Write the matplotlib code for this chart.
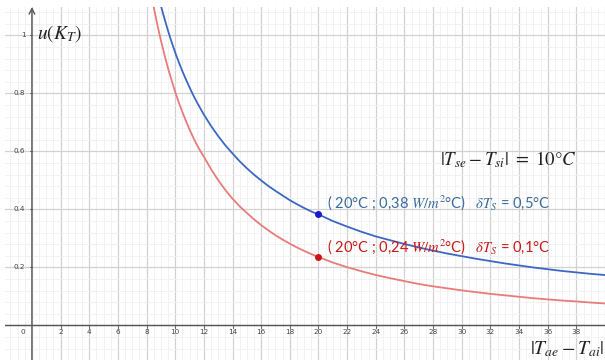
import matplotlib
matplotlib.use("Agg")
import matplotlib.pyplot as plt
from matplotlib.ticker import MultipleLocator

plt.rcParams['mathtext.fontset'] = 'stix'

# --- data ---
x_blue = [8.9, 9.0, 9.25, 9.5, 9.75, 10.0, 10.25, 10.5, 10.75, 11.0, 11.25, 11.5, 11.75,
          12.0, 12.5, 13.0, 13.5, 14.0, 14.5, 15.0, 15.5, 16.0, 16.5, 17.0, 17.5, 18.0,
          18.5, 19.0, 19.5, 20, 21, 22, 23, 24, 25, 26, 27, 28, 29, 30, 31, 32, 33, 34,
          35, 36, 37, 38, 39, 40]
u_blue = [1.123, 1.103, 1.058, 1.016, 0.977, 0.941, 0.908, 0.877, 0.848, 0.821, 0.795,
          0.771, 0.749, 0.727, 0.688, 0.653, 0.621, 0.593, 0.566, 0.542, 0.520, 0.500,
          0.481, 0.464, 0.448, 0.432, 0.418, 0.405, 0.393, 0.383, 0.360, 0.341, 0.323,
          0.307, 0.294, 0.281, 0.269, 0.258, 0.248, 0.239, 0.230, 0.222, 0.214, 0.207,
          0.200, 0.194, 0.188, 0.183, 0.178, 0.174]

x_red = [8.4, 8.5, 8.75, 9.0, 9.25, 9.5, 9.75, 10.0, 10.25, 10.5, 10.75, 11.0, 11.25,
         11.5, 11.75, 12.0, 12.5, 13.0, 13.5, 14.0, 14.5, 15.0, 15.5, 16.0, 16.5, 17.0,
         17.5, 18.0, 18.5, 19.0, 19.5, 20, 21, 22, 23, 24, 25, 26, 27, 28, 29, 30, 31,
         32, 33, 34, 35, 36, 37, 38, 39, 40]
u_red = [1.124, 1.098, 1.038, 0.983, 0.933, 0.887, 0.845, 0.805, 0.769, 0.736, 0.705,
         0.676, 0.649, 0.624, 0.602, 0.582, 0.539, 0.501, 0.467, 0.437, 0.411, 0.388,
         0.366, 0.346, 0.328, 0.311, 0.296, 0.282, 0.269, 0.257, 0.246, 0.236, 0.217,
         0.201, 0.187, 0.174, 0.163, 0.153, 0.143, 0.135, 0.128, 0.121, 0.115, 0.109,
         0.104, 0.099, 0.094, 0.090, 0.086, 0.083, 0.079, 0.076]

pt_blue = (20, 0.383)
pt_red = (20, 0.236)

x_ticks = list(range(2, 40, 2))
y_ticks = [0.2, 0.4, 0.6, 0.8, 1.0]
y_tick_labels = ['0.2', '0.4', '0.6', '0.8', '1']

label_blue = r"( 20°C ; 0,38 $W/m^2$°C)   $\delta T_S$ = 0,5°C"
label_red = r"( 20°C ; 0,24 $W/m^2$°C)   $\delta T_S$ = 0,1°C"

fig = plt.figure(figsize=(6.05, 3.6), dpi=100)
ax = fig.add_axes([5/605, 0, 600/605, 353/360])

xmin, xmax = -1.88, 40.0
ymin, ymax = -0.119, 1.098
ax.set_xlim(xmin, xmax)
ax.set_ylim(ymin, ymax)

for s in ax.spines.values():
    s.set_visible(False)

ax.xaxis.set_major_locator(MultipleLocator(2))
ax.xaxis.set_minor_locator(MultipleLocator(0.5))
ax.yaxis.set_major_locator(MultipleLocator(0.2))
ax.yaxis.set_minor_locator(MultipleLocator(0.04))
ax.grid(which='major', color='#d2d2d2', linewidth=0.9)
ax.grid(which='minor', color='#f0f0f0', linewidth=0.6)
ax.set_axisbelow(True)
ax.tick_params(which='both', length=0, labelbottom=False, labelleft=False)

# axes lines
ax.axhline(0, color='#555555', linewidth=1.0, zorder=2)
ax.annotate('', xy=(0, ymax), xytext=(0, ymin),
            arrowprops=dict(arrowstyle='->', color='#555555', lw=1.0,
                            shrinkA=0, shrinkB=0), zorder=2)

# tick labels
for xv in x_ticks:
    ax.text(xv, -0.022, str(xv), ha='center', va='center', fontsize=5.2, color='#444444')
    ax.plot([xv, xv], [0, -0.008], color='#555555', lw=0.6)
ax.text(-0.63, -0.022, '0', ha='center', va='center', fontsize=5.2, color='#444444')
for yv, yl in zip(y_ticks, y_tick_labels):
    ax.text(-0.45, yv, yl, ha='right', va='center', fontsize=5.2, color='#444444')
    ax.plot([0, -0.15], [yv, yv], color='#555555', lw=0.6)

# curves
ax.plot(x_blue, u_blue, color='#3d67c2', linewidth=1.3, zorder=3)
ax.plot(x_red, u_red, color='#e87b7b', linewidth=1.3, zorder=3)
ax.plot(*pt_blue, 'o', color='#1a1ad0', markersize=4, zorder=4)
ax.plot(*pt_red, 'o', color='#cc1414', markersize=4, zorder=4)

# texts
ax.text(0.35, 1.005, r'$u(K_T)$', fontsize=14, ha='left', va='center', color='#222222')
ax.text(39.95, -0.081, r'$|T_{ae} - T_{ai}|$', fontsize=14, ha='right', va='center', color='#222222')
ax.text(28.5, 0.571, r'$|T_{se} - T_{si}|\ =\ 10°C$', fontsize=13.5, ha='left', va='center', color='#222222')
ax.text(20.6, 0.423, label_blue, fontsize=10.5, family='Lato', ha='left', va='center', color='#3a6b9e')
ax.text(20.6, 0.27, label_red, fontsize=10.5, family='Lato', ha='left', va='center', color='#c81818')

fig.savefig('out.png', dpi=100)
